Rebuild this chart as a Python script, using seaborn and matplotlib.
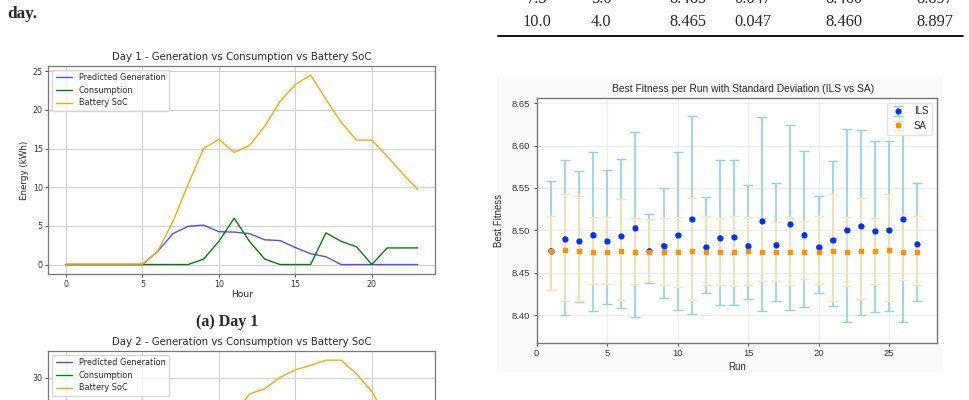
import matplotlib
matplotlib.use("Agg")
import matplotlib.pyplot as plt
import seaborn as sns
import pandas as pd
from matplotlib.lines import Line2D
from matplotlib.patches import Rectangle

# ---------------- data ----------------
hours = list(range(24))
day1_generation = [0, 0, 0, 0, 0, 0, 1.7, 4.0, 4.95, 5.1, 4.25, 4.2, 4.0, 3.2, 3.1, 2.2, 1.4, 1.0, 0, 0, 0, 0, 0, 0]
day1_consumption = [0, 0, 0, 0, 0, 0, 0, 0, 0, 0.7, 3.0, 6.0, 3.0, 0.7, 0, 0, 0, 4.1, 3.0, 2.3, 0, 2.15, 2.15, 2.15]
day1_soc = [0.05, 0.05, 0.05, 0.05, 0.05, 0.05, 1.7, 5.6, 10.4, 15.0, 16.2, 14.5, 15.4, 17.9, 21.1, 23.3, 24.5,
            21.4, 18.4, 16.1, 16.1, 14.0, 11.8, 9.7]

day2_generation = [0, 0, 0, 0, 0, 0, 2.0, 4.2, 5.2, 5.5, 5.0, 4.6, 4.3, 3.8, 3.2, 2.4, 1.5, 0.8, 0, 0, 0, 0, 0, 0]
day2_consumption = [0, 0, 0, 0, 0, 0, 0, 0, 0.5, 0.8, 1.2, 1.0, 0.6, 3.0, 1.2, 1.0, 0.7, 0, 2.5, 2.4, 3.1, 4.6, 4.0, 4.0]
day2_soc = [0.05, 0.05, 0.05, 0.05, 0.05, 0.05, 2.0, 6.0, 11.0, 16.0, 20.0, 23.5, 27.2, 28.1, 30.1, 31.4, 32.2,
            33.1, 33.1, 30.7, 27.6, 23.0, 19.0, 15.0]

runs = list(range(1, 28))
ils_mean = [8.476, 8.490, 8.487, 8.495, 8.487, 8.493, 8.503, 8.476, 8.482, 8.494, 8.513, 8.480, 8.491, 8.492,
            8.482, 8.511, 8.483, 8.507, 8.495, 8.480, 8.488, 8.500, 8.505, 8.499, 8.500, 8.513, 8.484]
ils_low = [8.430, 8.400, 8.415, 8.405, 8.413, 8.408, 8.398, 8.438, 8.420, 8.406, 8.401, 8.426, 8.412, 8.412,
           8.419, 8.405, 8.417, 8.406, 8.410, 8.426, 8.411, 8.392, 8.400, 8.404, 8.405, 8.392, 8.417]
ils_high = [8.558, 8.583, 8.570, 8.593, 8.571, 8.584, 8.616, 8.519, 8.550, 8.593, 8.635, 8.539, 8.583, 8.583,
            8.553, 8.634, 8.556, 8.624, 8.594, 8.541, 8.582, 8.620, 8.618, 8.605, 8.606, 8.640, 8.556]
sa_mean = [8.476, 8.477, 8.476, 8.474, 8.474, 8.476, 8.474, 8.474, 8.474, 8.474, 8.476, 8.474, 8.474, 8.474,
           8.476, 8.474, 8.474, 8.474, 8.474, 8.474, 8.476, 8.474, 8.476, 8.475, 8.477, 8.474, 8.474]
sa_low = [8.430, 8.417, 8.417, 8.437, 8.437, 8.418, 8.437, 8.440, 8.435, 8.433, 8.418, 8.436, 8.436, 8.434,
          8.435, 8.440, 8.440, 8.435, 8.442, 8.437, 8.417, 8.434, 8.419, 8.437, 8.416, 8.441, 8.436]
sa_high = [8.517, 8.543, 8.541, 8.516, 8.516, 8.537, 8.515, 8.513, 8.514, 8.516, 8.538, 8.517, 8.515, 8.517,
           8.516, 8.514, 8.510, 8.516, 8.511, 8.517, 8.543, 8.516, 8.538, 8.515, 8.543, 8.519, 8.517]

table_rows = [["7.5", "3.0", "8.465", "0.047", "8.460", "8.897"],
              ["10.0", "4.0", "8.465", "0.047", "8.460", "8.897"]]
table_col_x = [537, 601, 688, 753, 844, 935]

# ---------------- figure ----------------
W, H = 970, 400
sns.set_style("whitegrid")
plt.rcParams['font.family'] = ['DejaVu Sans']
fig = plt.figure(figsize=(W / 100, H / 100), dpi=100)
fig.patch.set_facecolor('white')


def fx(px):
    return px / W


def fy(py):
    return 1 - py / H


# text fragments of the page
fig.text(fx(7), fy(17.5), "day.", fontsize=12.4, fontweight='bold', family='Liberation Serif', va='baseline')
fig.text(fx(227), fy(326), "(a) Day 1", fontsize=11.5, fontweight='bold', family='Liberation Serif',
         ha='center', va='baseline')
for row, base in zip(table_rows, [3.0, 26.5]):
    for cx, val in zip(table_col_x, row):
        fig.text(fx(cx), fy(base), val, fontsize=11.8, family='Liberation Serif', ha='center', va='baseline')
fig.add_artist(Line2D([fx(498), fx(963)], [fy(36), fy(36)], color='black', lw=1.3, transform=fig.transFigure))


def day_chart(ax, title, gen, cons, soc):
    sns.lineplot(x=hours, y=gen, color='blue', alpha=0.7, lw=1.0, label='Predicted Generation', ax=ax)
    sns.lineplot(x=hours, y=cons, color='green', lw=1.0, label='Consumption', ax=ax)
    sns.lineplot(x=hours, y=soc, color='orange', lw=1.0, label='Battery SoC', ax=ax)
    ax.set_title(title, fontsize=7.3, pad=4)
    ax.set_xlabel('Hour', fontsize=6.6, labelpad=1)
    ax.set_ylabel('Energy (kWh)', fontsize=6.3, labelpad=3)
    ax.set_xticks([0, 5, 10, 15, 20])
    ax.tick_params(labelsize=5.7, length=2.5, width=0.6, pad=1.5, colors='#333333', left=True, bottom=True)
    for s in ax.spines.values():
        s.set_color('#777777')
        s.set_linewidth(0.9)
    ax.grid(True, color='#d0d0d0', lw=0.8)
    ax.legend(loc='upper left', fontsize=5.9, framealpha=0.8, edgecolor='#cccccc', handlelength=2.0,
              borderpad=0.4, labelspacing=0.45)


ax1 = fig.add_axes([fx(48.3), fy(274), fx(387), 208.3 / H])
day_chart(ax1, 'Day 1 - Generation vs Consumption vs Battery SoC', day1_generation, day1_consumption, day1_soc)

# Day 2: the page screenshot cuts it off at the bottom edge
ax2 = fig.add_axes([fx(48.3), fy(559), fx(387), 208.3 / H])
day_chart(ax2, 'Day 2 - Generation vs Consumption vs Battery SoC', day2_generation, day2_consumption, day2_soc)
y2lim = ax2.get_ylim()
ax2.set_yticks([30])
ax2.set_ylim(y2lim)
ax2.set_xlabel('')
ax2.set_ylabel('')
ax2.tick_params(labelbottom=False, bottom=False)

# ---------------- fitness chart ----------------
fig.add_artist(Rectangle((fx(497), fy(372)), fx(445), 295 / H, transform=fig.transFigure,
                         facecolor='#fafafa', edgecolor='none', zorder=-5))

ax3 = fig.add_axes([fx(536.7), fy(342.7), fx(400.6), 245 / H])
ax3.set_facecolor('white')
ils_err = [[m - lo for m, lo in zip(ils_mean, ils_low)], [hi - m for m, hi in zip(ils_mean, ils_high)]]
sa_err = [[m - lo for m, lo in zip(sa_mean, sa_low)], [hi - m for m, hi in zip(sa_mean, sa_high)]]

c1 = ax3.errorbar(runs, ils_mean, yerr=ils_err, fmt='o', color='#0030ff', ecolor='#8fcfe8', elinewidth=1.2,
                  capsize=3.5, capthick=1.0, markersize=3.4, label='ILS')
c2 = ax3.errorbar(runs, sa_mean, yerr=sa_err, fmt='s', color='#ff9100', ecolor='#ffe3b0', elinewidth=1.2,
                  capsize=3.5, capthick=1.0, markersize=3.2, label='SA')
for art in c1[2] + c1[1]:
    art.set_zorder(2)
for art in c2[2] + c2[1]:
    art.set_zorder(3)
c1[0].set_zorder(4)
c2[0].set_zorder(5)
sns.scatterplot(x=runs, y=ils_mean, color='#0030ff', s=12, marker='o', edgecolor='none', ax=ax3, zorder=4)

ax3.set_xlim(0, 28.43)
ax3.set_ylim(8.3673, 8.6566)
ax3.set_xticks([0, 5, 10, 15, 20, 25])
ax3.set_yticks([8.40, 8.45, 8.50, 8.55, 8.60, 8.65])
ax3.set_yticklabels(['8.40', '8.45', '8.50', '8.55', '8.60', '8.65'])
ff = 'Liberation Sans'
ax3.set_title('Best Fitness per Run with Standard Deviation (ILS vs SA)', fontsize=7.4, family=ff, pad=4,
              x=0.515)
ax3.set_xlabel('Run', fontsize=6.9, family=ff, labelpad=3)
ax3.set_ylabel('Best Fitness', fontsize=6.9, family=ff, labelpad=6)
ax3.tick_params(labelsize=6.8, length=2.5, width=0.6, pad=2, colors='#333333', left=True, bottom=True)
for lab in ax3.get_xticklabels() + ax3.get_yticklabels():
    lab.set_family(ff)
for s in ax3.spines.values():
    s.set_color('#777777')
    s.set_linewidth(1.0)
ax3.grid(True, color='#eeeeee', lw=0.8)
leg = ax3.legend(handles=[c1, c2], labels=['ILS', 'SA'], loc='upper right', prop={'family': ff, 'size': 7},
                 framealpha=0.8, edgecolor='#dddddd', borderpad=0.4, handlelength=1.6, labelspacing=0.45)

fig.savefig('out.png', dpi=100)
